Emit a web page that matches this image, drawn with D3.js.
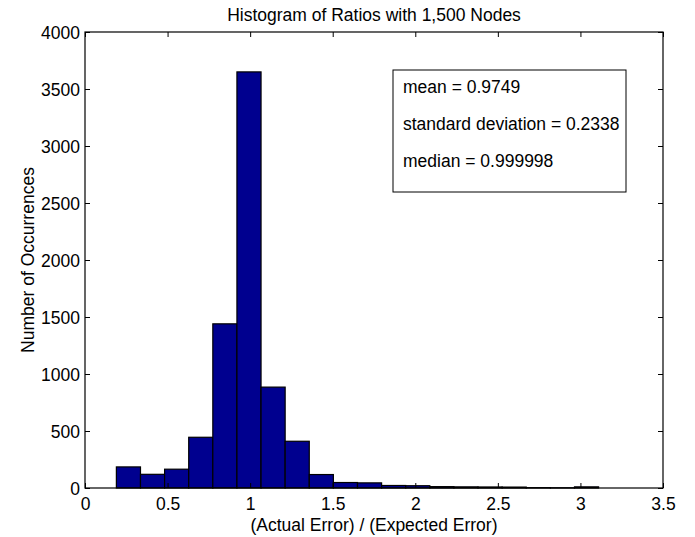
<!DOCTYPE html>
<html><head><meta charset="utf-8">
<script src="https://cdn.jsdelivr.net/npm/d3@7/dist/d3.min.js"></script>
<style>
html,body{margin:0;padding:0;background:#fff;}
svg text{font-family:"Liberation Sans",Helvetica,Arial,sans-serif;fill:#000;}
</style></head>
<body>
<svg id="chart" width="695" height="537"></svg>
<script>
// ---- data ----
const binEdges = [0.19,0.336,0.482,0.628,0.774,0.92,1.066,1.212,1.358,1.504,1.65,1.796,1.942,2.088,2.234,2.38,2.526,2.672,2.818,2.964,3.11];
const counts   = [185,120,165,445,1440,3650,885,410,118,48,45,22,20,12,10,9,8,3,2,10];
const xTicks = [0,0.5,1,1.5,2,2.5,3,3.5];
const yTicks = [0,500,1000,1500,2000,2500,3000,3500,4000];
const statLines = ["mean = 0.9749","standard deviation = 0.2338","median = 0.999998"];
const titleText = "Histogram of Ratios with 1,500 Nodes";
const xLabelText = "(Actual Error) / (Expected Error)";
const yLabelText = "Number of Occurrences";

// ---- layout ----
const L = 85, R = 663, T = 32, B = 488;
const FS = 17.5, TL = 5;
const svg = d3.select("#chart");
svg.append("rect").attr("width",695).attr("height",537).attr("fill","#fff");

const x = d3.scaleLinear().domain([0,3.5]).range([L,R]);
const y = d3.scaleLinear().domain([0,4000]).range([B,T]);

const bins = counts.map((c,i)=>({x0:binEdges[i],x1:binEdges[i+1],c}));

svg.append("g").selectAll("rect").data(bins).join("rect")
  .attr("x",d=>x(d.x0)).attr("width",d=>x(d.x1)-x(d.x0))
  .attr("y",d=>y(d.c)).attr("height",d=>y(0)-y(d.c))
  .attr("fill","#00008f").attr("stroke","#000").attr("stroke-width",1.2);

// axes (inward ticks, mirrored)
const gB = svg.append("g").attr("transform",`translate(0,${B})`)
  .call(d3.axisBottom(x).tickValues(xTicks).tickSize(-TL).tickPadding(10).tickFormat(d3.format("~g")));
const gT = svg.append("g").attr("transform",`translate(0,${T})`)
  .call(d3.axisTop(x).tickValues(xTicks).tickSize(-TL).tickFormat(""));
const gL = svg.append("g").attr("transform",`translate(${L},0)`)
  .call(d3.axisLeft(y).tickValues(yTicks).tickSize(-TL).tickPadding(5).tickFormat(d3.format("d")));
const gR = svg.append("g").attr("transform",`translate(${R},0)`)
  .call(d3.axisRight(y).tickValues(yTicks).tickSize(-TL).tickFormat(""));
[gB,gT,gL,gR].forEach(g=>{
  g.select(".domain").remove();
  g.selectAll("line").attr("stroke","#000").attr("stroke-width",1);
  g.selectAll("text").attr("font-size",FS).attr("font-family",null);
});
gB.selectAll("text").attr("dy","0.71em");
gL.selectAll("text").attr("dy","0.35em");

svg.append("rect").attr("x",L).attr("y",T).attr("width",R-L).attr("height",B-T)
  .attr("fill","none").attr("stroke","#000").attr("stroke-width",1.2);

// title & labels
svg.append("text").attr("x",(L+R)/2).attr("y",21).attr("text-anchor","middle")
  .attr("font-size",FS).text(titleText);
svg.append("text").attr("x",(L+R)/2).attr("y",531).attr("text-anchor","middle")
  .attr("font-size",FS).text(xLabelText);
svg.append("text").attr("transform",`translate(34,${(T+B)/2}) rotate(-90)`)
  .attr("text-anchor","middle").attr("font-size",FS).text(yLabelText);

// stats box
const box = svg.append("g");
box.append("rect").attr("x",393).attr("y",70).attr("width",233).attr("height",122)
  .attr("fill","#fff").attr("stroke","#000").attr("stroke-width",1);
box.selectAll("text.s").data(statLines).join("text").attr("class","s")
  .attr("x",403).attr("y",(d,i)=>93+i*37).attr("font-size",FS).text(d=>d);
</script>
</body></html>
